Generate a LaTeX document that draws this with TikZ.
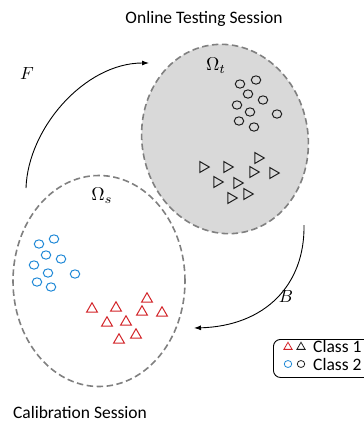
\documentclass[tikz,border=0pt]{standalone}
\usepackage{fontspec}
\setmainfont{Carlito}
\usetikzlibrary{shapes.geometric,arrows.meta}
\definecolor{dashgray}{RGB}{128,128,128}
\definecolor{fillgray}{RGB}{217,217,217}
\definecolor{tred}{RGB}{210,35,40}
\definecolor{cblue}{RGB}{30,136,214}
\definecolor{mark}{RGB}{30,30,30}
\begin{document}
\begin{tikzpicture}[x=1pt,y=-1pt,
 region/.style={ellipse, draw=dashgray, line width=1.6pt, dash pattern=on 6.5pt off 3.5pt, inner sep=0pt},
 ring/.style={ellipse, draw=mark, line width=1pt, minimum width=9.5pt, minimum height=8.3pt, inner sep=0pt},
 tri/.style={regular polygon, regular polygon sides=3, draw=mark, line width=1pt, minimum size=12.5pt, inner sep=0pt},
 flow/.style={line width=0.9pt, -{Latex[length=7pt,width=5pt]}},
 title/.style={font=\fontsize{17.5}{20}\selectfont},
 omega/.style={font=\normalsize, scale=1.85, inner sep=0pt},
]
\useasboundingbox (0,0) rectangle (364,421);
% regions
\node[region, fill=fillgray, minimum width=166pt, minimum height=190pt, rotate=10] (omt) at (225,139) {};
\node[region, minimum width=172pt, minimum height=211pt] (oms) at (99,281) {};
% labels
\node[title] (tt) at (204,19) {Online Testing Session};
\node[title] (ts) at (80,412) {Calibration Session};
\node[omega] (lt) at (216,66) {$\Omega_t$};
\node[omega] (ls) at (102,196) {$\Omega_s$};
% target class 2 (circles)
\foreach \x/\y [count=\i] in {240/84,256/80,248/94,237/105,263/100,250/112,277/114,239/121,254/127}
  \node[ring] (tc\i) at (\x,\y) {};
% target class 1 (triangles)
\foreach \x/\y [count=\i] in {203/167,227/167,258/158,217/182,237/183,253/172,273/173,231/198,247/194}
  \node[tri, shape border rotate=-90] (tt\i) at (\x,\y) {};
% source class 2 (blue circles)
\foreach \x/\y [count=\i] in {39/244,54/239,46/255,61/259,34/265,48/273,75/274,37/282,51/287}
  \node[ring, draw=cblue] (sc\i) at (\x,\y) {};
% source class 1 (red triangles)
\foreach \x/\y [count=\i] in {92/309,116/308,147/299,107/323,126/322,142/312,162/313,119/340,136/335}
  \node[tri, draw=tred] (st\i) at (\x,\y) {};
% arrows
\coordinate (fa) at (26,188);
\coordinate (fb) at (149,63);
\coordinate (ba) at (304,225);
\coordinate (bb) at (194,328);
\draw[flow] (fa) .. controls (28,128) and (85,63) .. (fb);
\draw[flow] (ba) .. controls (305,285) and (265,326) .. (bb);
\node[omega, scale=0.95] (lf) at (27,73) {$F$};
\node[omega, scale=0.95] (lb) at (286,296) {$B$};
% legend
\node[draw, line width=0.9pt, rounded corners=7pt, anchor=north west, minimum width=110pt, minimum height=38pt, inner sep=0pt] (leg) at (273,339) {};
\node[tri, draw=tred, minimum size=9.5pt, line width=0.8pt] (lg1) at (288,347) {};
\node[tri, minimum size=9.5pt, line width=0.8pt] (lg2) at (301,347) {};
\node[ring, draw=cblue, minimum width=7.5pt, minimum height=7pt, line width=0.8pt] (lg3) at (288,364) {};
\node[ring, minimum width=7.5pt, minimum height=7pt, line width=0.8pt] (lg4) at (301,364) {};
\node[title, anchor=west, inner sep=0pt] (c1) at (313,346) {Class 1};
\node[title, anchor=west, inner sep=0pt] (c2) at (313,364) {Class 2};
\end{tikzpicture}
\end{document}
